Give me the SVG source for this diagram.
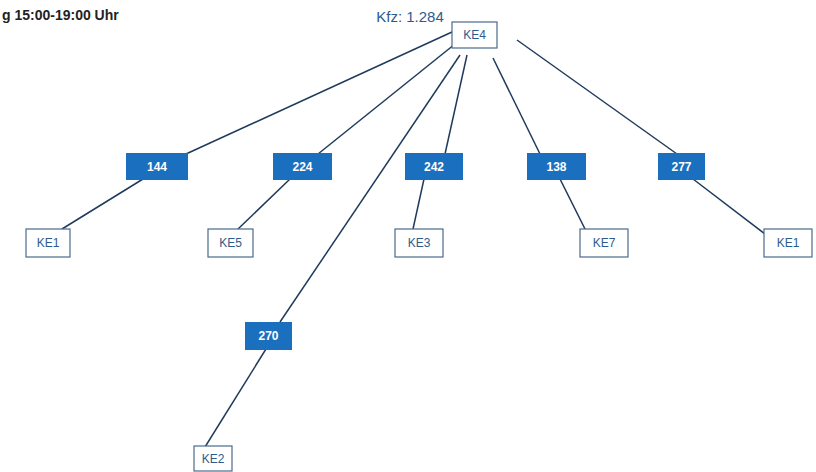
<svg xmlns="http://www.w3.org/2000/svg" width="816" height="472" viewBox="0 0 816 472">
<style>
.node rect{fill:#fff;stroke:#4a6a8c;stroke-width:1.2}
.node text{font-family:"Liberation Sans",Arial,sans-serif;font-size:12px;fill:#2e5c8a;text-anchor:middle}
.lbl rect{fill:#1a6fbf}
.lbl text{font-family:"Liberation Sans",Arial,sans-serif;font-size:12px;fill:#fff;text-anchor:middle;font-weight:bold}
.conn line{stroke:#1f3b5c;stroke-width:1.5}
</style>
<rect width="816" height="472" fill="#fff"/>
<text x="2" y="20" font-family="Liberation Sans,Arial,sans-serif" font-size="14" font-weight="bold" fill="#222">g 15:00-19:00 Uhr</text>
<text x="410" y="22" font-family="Liberation Sans,Arial,sans-serif" font-size="15" fill="#2e5c8a" text-anchor="middle">Kfz: 1.284</text>
<g id="connectors" class="conn">
<line x1="452" y1="32" x2="186" y2="154"/>
<line x1="143" y1="179" x2="62" y2="229"/>
<line x1="455" y1="44" x2="318" y2="154"/>
<line x1="290" y1="179" x2="238" y2="229"/>
<line x1="460" y1="55" x2="280" y2="322"/>
<line x1="266" y1="349" x2="205" y2="447"/>
<line x1="467" y1="55" x2="445" y2="154"/>
<line x1="424" y1="179" x2="413" y2="229"/>
<line x1="493" y1="58" x2="540" y2="154"/>
<line x1="560" y1="179" x2="585" y2="229"/>
<line x1="517" y1="40" x2="677" y2="154"/>
<line x1="693" y1="179" x2="765" y2="234"/>
</g>
<g id="KE4" class="node"><rect x="452" y="22" width="45" height="26"/><text x="474.5" y="39">KE4</text></g>
<g id="l144" class="lbl"><rect x="126" y="153" width="62" height="27"/><text x="157" y="171">144</text></g>
<g id="l224" class="lbl"><rect x="273" y="153" width="59" height="27"/><text x="302.5" y="171">224</text></g>
<g id="l242" class="lbl"><rect x="405" y="153" width="58" height="27"/><text x="434" y="171">242</text></g>
<g id="l138" class="lbl"><rect x="527" y="153" width="59" height="27"/><text x="556.5" y="171">138</text></g>
<g id="l277" class="lbl"><rect x="658" y="153" width="47" height="27"/><text x="681.5" y="171">277</text></g>
<g id="l270" class="lbl"><rect x="245" y="322" width="47" height="28"/><text x="268.5" y="340">270</text></g>
<g id="KE1a" class="node"><rect x="26" y="229" width="44" height="28"/><text x="48" y="247">KE1</text></g>
<g id="KE5" class="node"><rect x="208" y="229" width="45" height="28"/><text x="230.5" y="247">KE5</text></g>
<g id="KE3" class="node"><rect x="395" y="229" width="48" height="28"/><text x="419" y="247">KE3</text></g>
<g id="KE7" class="node"><rect x="580" y="229" width="48" height="28"/><text x="604" y="247">KE7</text></g>
<g id="KE1b" class="node"><rect x="764" y="229" width="48" height="28"/><text x="788" y="247">KE1</text></g>
<g id="KE2" class="node"><rect x="194" y="446" width="38" height="25"/><text x="213" y="463">KE2</text></g>
</svg>
